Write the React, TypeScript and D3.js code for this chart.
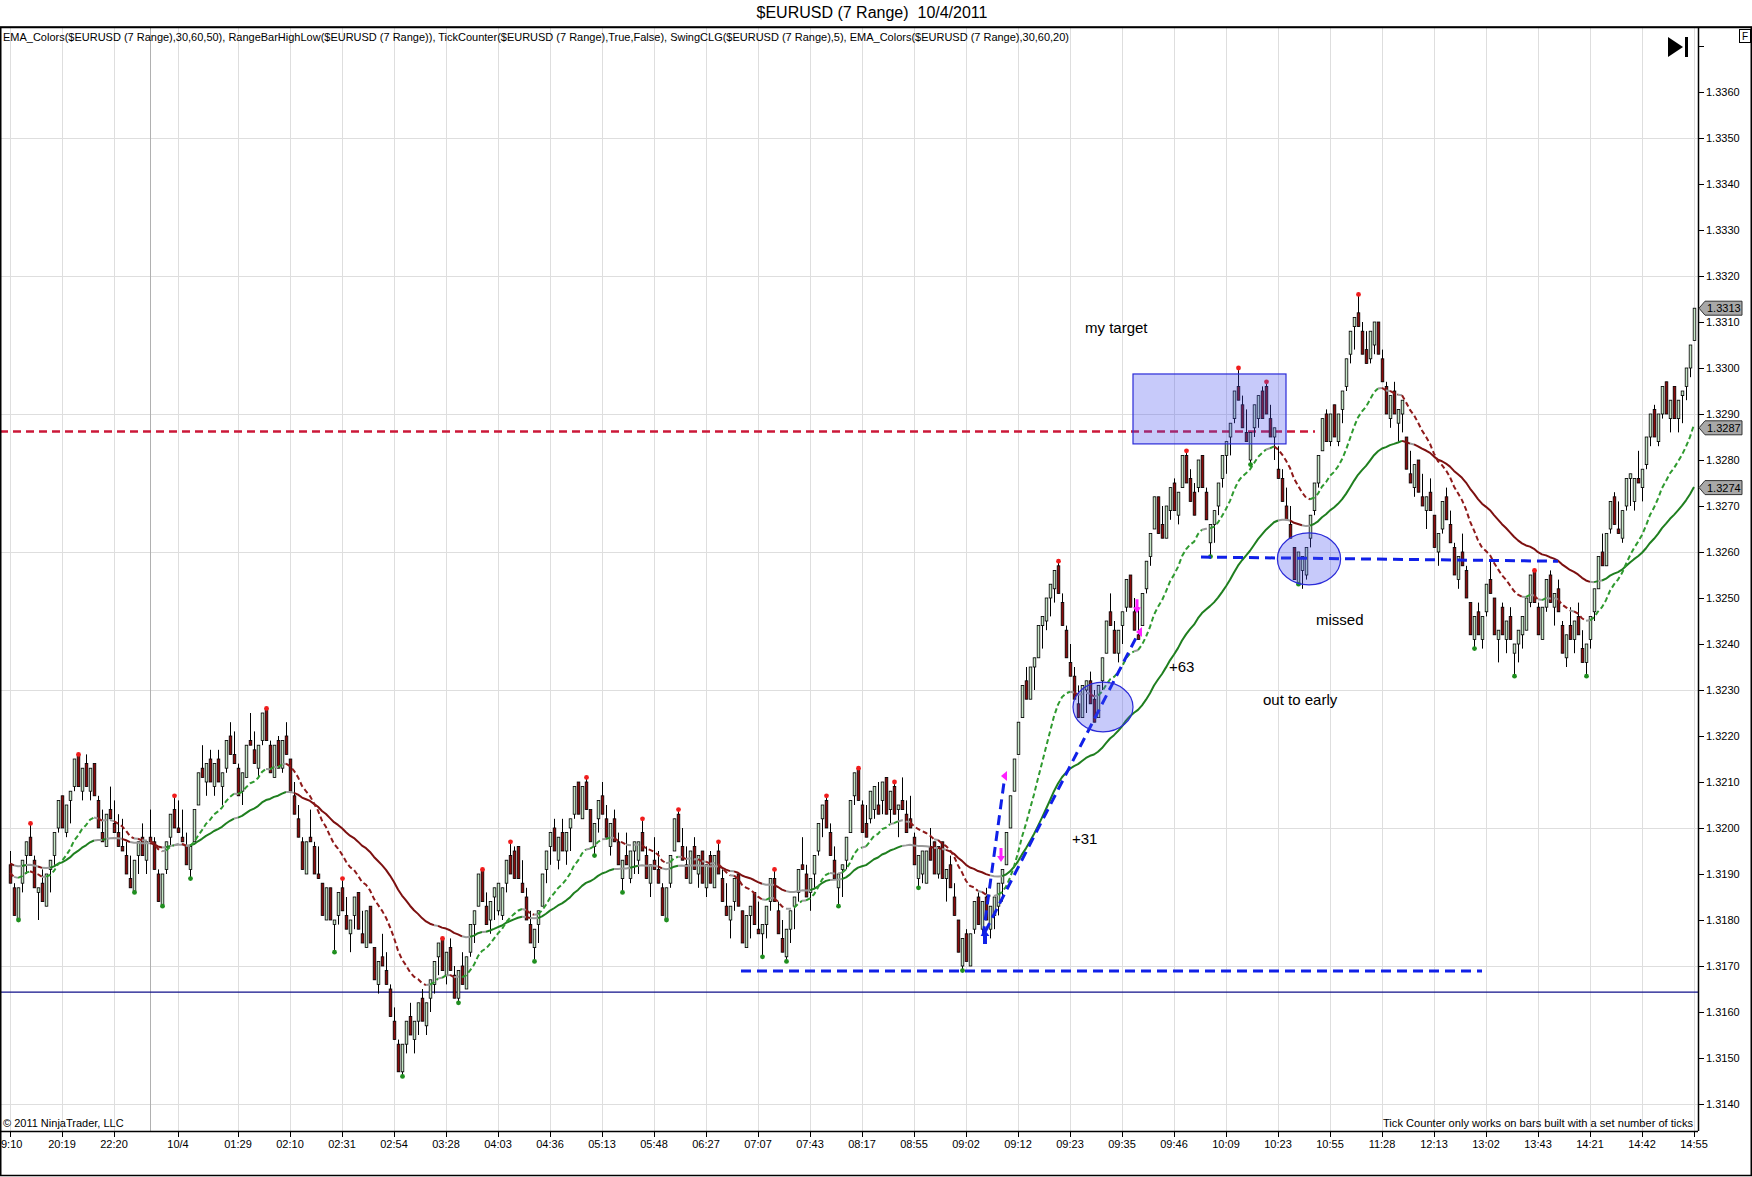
import { scaleLinear, line } from 'd3'

const BASE_PRICE = 1.314
const PIP = 0.0001
const RANGE_PIPS = 7

const openPips = [
  52, 47, 40, 48, 54, 58, 53, 46, 48, 43, 51, 54, 60, 67, 59, 66, 69, 76, 68, 74,
  68, 74, 66, 59, 56, 64, 61, 59, 56, 54, 49, 46, 54, 58, 53, 58, 57, 50, 43, 51,
  58, 64, 60, 58, 56, 51, 57, 65, 73, 70, 75, 69, 75, 69, 73, 80, 76, 73, 68, 71,
  79, 77, 73, 79, 86, 78, 71, 79, 73, 80, 75, 67, 62, 57, 50, 58, 56, 50, 48, 40,
  47, 39, 41, 47, 41, 37, 41, 46, 37, 34, 43, 34, 26, 32, 29, 25, 18, 13, 7, 13,
  19, 14, 18, 23, 17, 23, 26, 32, 36, 28, 34, 28, 23, 30, 25, 33, 39, 43, 51, 43,
  40, 45, 42, 41, 48, 54, 55, 56, 48, 45, 39, 34, 39, 43, 51, 56, 60, 53, 59, 55,
  60, 63, 70, 62, 70, 64, 56, 62, 67, 62, 56, 62, 57, 49, 54, 49, 55, 53, 59, 54,
  48, 53, 51, 47, 40, 48, 55, 63, 56, 52, 48, 56, 50, 55, 47, 54, 47, 55, 49, 43,
  40, 44, 50, 42, 34, 41, 46, 38, 37, 39, 44, 49, 42, 36, 32, 38, 43, 46, 52, 50,
  46, 50, 55, 62, 66, 59, 53, 47, 51, 53, 59, 67, 73, 65, 61, 62, 64, 65, 66, 71,
  64, 69, 64, 66, 63, 62, 58, 49, 50, 48, 56, 57, 50, 57, 49, 52, 45, 40, 30, 37,
  30, 38, 45, 38, 45, 38, 41, 43, 48, 52, 60, 68, 76, 84, 92, 88, 95, 97, 104, 105,
  110, 112, 117, 109, 103, 96, 93, 87, 84, 90, 92, 88, 84, 92, 98, 107, 103, 98, 104, 108,
  115, 107, 102, 104, 112, 119, 125, 132, 126, 123, 129, 135, 128, 134, 141, 136, 133, 134, 141, 133,
  122, 126, 130, 136, 141, 145, 149, 156, 152, 146, 140, 147, 149, 155, 156, 149, 145, 138, 136, 130,
  126, 121, 113, 116, 115, 123, 129, 135, 142, 150, 144, 152, 144, 151, 156, 163, 169, 172, 168, 164,
  162, 165, 170, 162, 156, 149, 155, 148, 150, 145, 137, 134, 140, 132, 129, 133, 128, 120, 125, 132,
  126, 121, 114, 120, 116, 109, 101, 107, 101, 107, 114, 110, 101, 108, 101, 106, 98, 100, 102, 103,
  109, 116, 108, 101, 108, 115, 108, 112, 104, 97, 104, 101, 106, 99, 96, 101, 107, 112, 120, 117,
  125, 132, 125, 123, 130, 136, 131, 136, 134, 139, 145, 151, 144, 150, 157, 149, 156, 149, 154, 156,
  160, 166,
]

const closePips = [
  48, 41, 47, 53, 57, 54, 47, 47, 44, 50, 53, 59, 66, 60, 65, 68, 75, 69, 73, 69,
  73, 67, 60, 57, 63, 62, 59, 56, 55, 50, 47, 53, 57, 54, 57, 57, 51, 44, 50, 57,
  63, 60, 59, 57, 52, 56, 64, 72, 71, 74, 70, 74, 70, 72, 79, 76, 74, 67, 72, 78,
  78, 74, 78, 85, 79, 72, 78, 73, 79, 76, 68, 63, 58, 51, 57, 57, 50, 49, 41, 47,
  40, 40, 46, 42, 38, 40, 45, 38, 35, 42, 35, 27, 31, 30, 26, 19, 14, 7, 13, 18,
  15, 18, 22, 18, 22, 27, 31, 35, 29, 33, 29, 23, 29, 26, 32, 39, 42, 50, 44, 39,
  44, 47, 48, 47, 53, 50, 49, 49, 46, 40, 35, 38, 42, 50, 55, 59, 55, 58, 55, 59,
  62, 69, 63, 69, 64, 57, 61, 66, 63, 58, 61, 57, 52, 53, 52, 55, 57, 57, 55, 49,
  52, 51, 48, 41, 47, 54, 62, 57, 53, 49, 55, 51, 54, 48, 52, 48, 54, 50, 44, 41,
  43, 49, 43, 35, 41, 43, 39, 37, 39, 43, 49, 44, 37, 33, 38, 42, 45, 51, 51, 45,
  49, 54, 61, 65, 60, 54, 49, 50, 52, 58, 66, 72, 66, 59, 58, 68, 69, 63, 70, 63,
  68, 63, 65, 64, 59, 60, 52, 54, 55, 55, 53, 50, 56, 49, 51, 47, 41, 33, 36, 31,
  37, 44, 39, 44, 40, 43, 45, 48, 51, 59, 67, 75, 83, 91, 88, 95, 97, 104, 106, 110,
  113, 116, 111, 104, 97, 93, 88, 84, 91, 92, 87, 83, 91, 97, 105, 104, 98, 103, 107, 114,
  108, 103, 101, 111, 118, 124, 132, 124, 123, 130, 134, 129, 133, 141, 135, 131, 128, 140, 134, 127,
  126, 129, 135, 141, 144, 148, 155, 153, 147, 144, 146, 152, 154, 149, 150, 145, 147, 136, 131, 127,
  123, 114, 120, 119, 121, 128, 135, 141, 149, 144, 150, 145, 150, 155, 162, 168, 171, 169, 163, 161,
  168, 170, 163, 157, 150, 154, 150, 151, 153, 138, 135, 139, 133, 130, 132, 129, 121, 124, 131, 127,
  122, 115, 119, 117, 110, 102, 106, 102, 106, 113, 111, 102, 103, 102, 105, 101, 100, 103, 106, 110,
  115, 109, 102, 108, 114, 109, 111, 107, 98, 102, 101, 105, 102, 96, 100, 106, 112, 119, 117, 124,
  131, 126, 124, 129, 136, 137, 136, 135, 138, 145, 150, 145, 150, 156, 150, 153, 149, 153, 155, 160,
  165, 173,
]

// first label is shown clipped at the left edge in the original, only "9:10" visible
const timeLabels = [
  '9:10', '20:19', '22:20', '10/4', '01:29', '02:10', '02:31', '02:54', '03:28', '04:03', '04:36',
  '05:13', '05:48', '06:27', '07:07', '07:43', '08:17', '08:55', '09:02', '09:12', '09:23', '09:35',
  '09:46', '10:09', '10:23', '10:55', '11:28', '12:13', '13:02', '13:43', '14:21', '14:42', '14:55',
]
const timeLabelBars = [
  0, 13, 26, 42, 57, 70, 83, 96, 109, 122, 135, 148, 161, 174, 187, 200, 213, 226, 239, 252, 265,
  278, 291, 304, 317, 330, 343, 356, 369, 382, 395, 408, 421,
]
const dayBreakBar = 35

const priceTicks = [
  1.314, 1.315, 1.316, 1.317, 1.318, 1.319, 1.32, 1.321, 1.322, 1.323, 1.324, 1.325, 1.326, 1.327,
  1.328, 1.329, 1.33, 1.331, 1.332, 1.333, 1.334, 1.335, 1.336,
]
const gridPrices = [1.314, 1.317, 1.32, 1.323, 1.326, 1.329, 1.332, 1.335]

const swingHighBars = [5, 17, 41, 64, 83, 108, 118, 125, 144, 158, 167, 177, 191, 204, 212, 221, 262, 294, 307, 314, 337, 381]
const swingLowBars = [2, 31, 38, 45, 81, 98, 112, 131, 146, 153, 164, 188, 194, 207, 227, 238, 300, 310, 322, 366, 376, 394]

// EMA_Colors: fast (dashed) and slow (solid); value before the first bar
const fastPeriod = 20
const slowPeriod = 50
const fastSeed = 50.5
const slowSeed = 52.5

const priceTags = [1.3313, 1.3287, 1.3274]
const supportPrice = 1.31643
const targetPrice = 1.32862
const targetLineEndBar = 326.25

// hand drawn objects, anchored in bar / pip coordinates
const blueDashes = [
  { b0: 182.75, p0: 28.9, b1: 368, p1: 28.9 },
  { b0: 297.75, p0: 118.9, b1: 387, p1: 118.0 },
  { b0: 243.25, p0: 36.5, b1: 248.75, p1: 71.5 },
  { b0: 243.75, p0: 37.4, b1: 282.25, p1: 102.6 },
]
const targetBox = { b0: 280.75, b1: 319, p0: 143.5, p1: 158.7 }
const ellipses = [
  { b: 273.25, p: 86.3, rb: 7.5, rp: 5.4 },
  { b: 324.75, p: 118.5, rb: 7.9, rp: 5.65 },
]
const notes = [
  { text: 'my target', b: 268.75, p: 167.6 },
  { text: '+63', b: 289.75, p: 93.9 },
  { text: 'missed', b: 326.5, p: 104.1 },
  { text: 'out to early', b: 313.25, p: 86.7 },
  { text: '+31', b: 265.5, p: 56.5 },
]
const exitArrows = [{ b: 247.75, p: 52.6 }, { b: 281.75, p: 106.7 }]
const exitHeads = [{ b: 248.75, p: 71.3 }, { b: 282.5, p: 102.6 }]
const entryArrow = { b: 243.75, p: 37.8 }

const FONT = "'Liberation Sans', Arial, sans-serif"
const UP_FILL = '#c6e6c6'
const DOWN_FILL = '#8b0a0a'

function ema(values: number[], period: number, seed: number) {
  const k = 2 / (period + 1)
  let prev = seed
  return values.map((v) => (prev = prev + k * (v - prev)))
}

function colourRuns(vals: number[], threshold: number, colors: { up: string; down: string; flat: string }) {
  const runs: { color: string; pts: [number, number][] }[] = []
  for (let i = 1; i < vals.length; i++) {
    const d = vals[i] - vals[i - 1]
    const c = d > threshold ? colors.up : d < -threshold ? colors.down : colors.flat
    const last = runs[runs.length - 1]
    if (last && last.color === c) last.pts.push([i, vals[i]])
    else runs.push({ color: c, pts: [[i - 1, vals[i - 1]], [i, vals[i]]] })
  }
  return runs
}

export default function App() {
  const left = 0
  const right = 1698
  const top = 27
  const bottom = 1131

  const x = scaleLinear().domain([0, 421]).range([10, 1694])
  const y = scaleLinear().domain([1.314, 1.336]).range([1104, 92])
  const py = (pips: number) => y(BASE_PRICE + pips * PIP)

  const bars = closePips.map((c, i) => {
    const o = openPips[i]
    const up = c >= o
    const hi = up ? c : Math.max(o, c + RANGE_PIPS)
    const lo = up ? Math.min(o, c - RANGE_PIPS) : c
    return { i, o, c, hi, lo, up }
  })

  const fast = ema(closePips, fastPeriod, fastSeed)
  const slow = ema(closePips, slowPeriod, slowSeed)
  const fastRuns = colourRuns(fast, 0.3, { up: '#2f9a2f', down: '#8e1a1a', flat: '#9a9a9a' })
  const slowRuns = colourRuns(slow, 0.2, { up: '#1f7f1f', down: '#7d1010', flat: '#9a9a9a' })

  const path = line<[number, number]>()
    .x((d) => x(d[0]))
    .y((d) => py(d[1]))

  const arrowDown = (cx: number, ty: number) =>
    `M${cx},${ty} L${cx - 4},${ty - 6} L${cx - 1.5},${ty - 6} L${cx - 1.5},${ty - 14} L${cx + 1.5},${ty - 14} L${cx + 1.5},${ty - 6} L${cx + 4},${ty - 6} Z`
  const arrowUp = (cx: number, ty: number) =>
    `M${cx},${ty} L${cx - 4.5},${ty + 6} L${cx - 2},${ty + 6} L${cx - 2},${ty + 14} L${cx + 2},${ty + 14} L${cx + 2},${ty + 6} L${cx + 4.5},${ty + 6} Z`

  return (
    <svg width={1752} height={1177} style={{ display: 'block', background: '#fff' }} fontFamily={FONT}>
      <style>{'body{margin:0}'}</style>
      <defs>
        <clipPath id="plot">
          <rect x={left} y={top} width={right - left} height={bottom - top} />
        </clipPath>
      </defs>

      <text x={872} y={18} fontSize={16} textAnchor="middle" fill="#000">
        {'$EURUSD (7 Range)\u00a0 10/4/2011'}
      </text>

      {/* grid */}
      {gridPrices.map((p) => (
        <line key={p} x1={left} x2={right} y1={Math.round(y(p)) + 0.5} y2={Math.round(y(p)) + 0.5} stroke="#dedede" />
      ))}
      {timeLabelBars.map((b) => (
        <line key={b} x1={Math.round(x(b)) + 0.5} x2={Math.round(x(b)) + 0.5} y1={top} y2={bottom} stroke="#dedede" />
      ))}
      <line x1={Math.round(x(dayBreakBar)) + 0.5} x2={Math.round(x(dayBreakBar)) + 0.5} y1={top} y2={bottom} stroke="#b0b0b0" />

      <g clipPath="url(#plot)">
        <line x1={left} x2={right} y1={y(supportPrice)} y2={y(supportPrice)} stroke="#10108a" strokeWidth={1.3} />
        <line x1={left} x2={x(targetLineEndBar)} y1={y(targetPrice)} y2={y(targetPrice)} stroke="#cc1838" strokeWidth={2.6} strokeDasharray="8,5" />

        {/* candles */}
        {bars.map((d) => {
          const cx = Math.round(x(d.i)) + 0.5
          const yTop = py(Math.max(d.o, d.c))
          const yBot = py(Math.min(d.o, d.c))
          return (
            <g key={d.i}>
              <line x1={cx} x2={cx} y1={py(d.hi)} y2={py(d.lo)} stroke="#000" strokeWidth={1} />
              <rect x={cx - 1.3} y={yTop} width={2.6} height={Math.max(1, yBot - yTop)} fill={d.up ? UP_FILL : DOWN_FILL} stroke="#000" strokeWidth={0.8} />
            </g>
          )
        })}

        {/* EMA colours */}
        {slowRuns.map((r, k) => (
          <path key={'s' + k} d={path(r.pts) ?? ''} fill="none" stroke={r.color} strokeWidth={2} strokeLinejoin="round" />
        ))}
        {fastRuns.map((r, k) => (
          <path key={'f' + k} d={path(r.pts) ?? ''} fill="none" stroke={r.color} strokeWidth={2} strokeDasharray="5,3" />
        ))}

        {/* swings */}
        {swingHighBars.map((b) => (
          <circle key={'h' + b} cx={Math.round(x(b)) + 0.5} cy={py(bars[b].hi)} r={2.4} fill="#f01c1c" />
        ))}
        {swingLowBars.map((b) => (
          <circle key={'l' + b} cx={Math.round(x(b)) + 0.5} cy={py(bars[b].lo)} r={2.4} fill="#1f8f1f" />
        ))}

        {/* drawings */}
        {blueDashes.map((l, k) => (
          <line key={'bd' + k} x1={x(l.b0)} y1={py(l.p0)} x2={x(l.b1)} y2={py(l.p1)} stroke="#1020e8" strokeWidth={3} strokeDasharray="10,6" />
        ))}
        <path d={arrowUp(x(entryArrow.b), py(entryArrow.p))} fill="#1020e8" />
        {exitArrows.map((a, k) => (
          <path key={'ea' + k} d={arrowDown(x(a.b), py(a.p))} fill="#ff20ff" />
        ))}
        {exitHeads.map((a, k) => {
          const hx = x(a.b)
          const hy = py(a.p)
          return <path key={'eh' + k} d={`M${hx - 4},${hy} L${hx + 2},${hy - 5} L${hx + 2},${hy + 5} Z`} fill="#ff20ff" />
        })}
        <rect
          x={x(targetBox.b0)}
          y={py(targetBox.p1)}
          width={x(targetBox.b1) - x(targetBox.b0)}
          height={py(targetBox.p0) - py(targetBox.p1)}
          fill="rgba(70,80,240,0.3)"
          stroke="#2a2ad8"
          strokeWidth={1.2}
        />
        {ellipses.map((e, k) => (
          <ellipse
            key={'el' + k}
            cx={x(e.b)}
            cy={py(e.p)}
            rx={x(e.b + e.rb) - x(e.b)}
            ry={py(e.p - e.rp) - py(e.p)}
            fill="rgba(70,80,240,0.3)"
            stroke="#2a2ad8"
            strokeWidth={1.2}
          />
        ))}
        {notes.map((n) => (
          <text key={n.text} x={x(n.b)} y={py(n.p)} fontSize={15} fill="#000">
            {n.text}
          </text>
        ))}
      </g>

      {/* header and footer texts */}
      <text x={3} y={41} fontSize={11} textLength={1066} lengthAdjust="spacingAndGlyphs" fill="#000">
        EMA_Colors($EURUSD (7 Range),30,60,50), RangeBarHighLow($EURUSD (7 Range)), TickCounter($EURUSD (7 Range),True,False), SwingCLG($EURUSD (7 Range),5), EMA_Colors($EURUSD (7 Range),30,60,20)
      </text>
      <text x={3} y={1127} fontSize={11} fill="#000">
        © 2011 NinjaTrader, LLC
      </text>
      <text x={1383} y={1127} fontSize={11} textLength={310} lengthAdjust="spacingAndGlyphs" fill="#000">
        Tick Counter only works on bars built with a set number of ticks
      </text>

      {/* play-to-end icon and F box */}
      <path d="M1668,37 L1668,57 L1683,47 Z" fill="#000" />
      <rect x={1685} y={37} width={3} height={20} fill="#000" />
      <rect x={1739.5} y={29.5} width={11} height={13} fill="#fff" stroke="#000" />
      <text x={1742} y={40} fontSize={10} fill="#000">
        F
      </text>

      {/* axes */}
      <line x1={0} x2={1752} y1={top + 0.5} y2={top + 0.5} stroke="#000" strokeWidth={1.5} />
      <line x1={0} x2={right} y1={bottom + 0.5} y2={bottom + 0.5} stroke="#000" strokeWidth={1.5} />
      <line x1={right + 0.5} x2={right + 0.5} y1={top} y2={bottom} stroke="#000" strokeWidth={1.5} />
      <rect x={0.75} y={top} width={1750.5} height={1175.5 - top} fill="none" stroke="#000" strokeWidth={1.5} />

      {priceTicks.concat([1.337]).map((p) => (
        <line key={'t' + p} x1={right} x2={right + 6} y1={Math.round(y(p)) + 0.5} y2={Math.round(y(p)) + 0.5} stroke="#000" />
      ))}
      {priceTicks.map((p) => (
        <text key={'pl' + p} x={right + 8} y={y(p) + 4} fontSize={11} fill="#000">
          {p.toFixed(4)}
        </text>
      ))}
      {priceTags.map((p) => {
        const ty = y(p)
        return (
          <g key={'tag' + p}>
            <path d={`M${right + 1},${ty} L${right + 7},${ty - 7} L${right + 44},${ty - 7} L${right + 44},${ty + 7} L${right + 7},${ty + 7} Z`} fill="#a8a8a8" stroke="#333" strokeWidth={1} />
            <text x={right + 9} y={ty + 4} fontSize={11} fill="#000">
              {p.toFixed(4)}
            </text>
          </g>
        )
      })}

      {timeLabelBars.map((b, k) => (
        <g key={'x' + b}>
          <line x1={Math.round(x(b)) + 0.5} x2={Math.round(x(b)) + 0.5} y1={bottom} y2={bottom + 6} stroke="#000" />
          <text x={k === 0 ? 1 : x(b)} y={1148} fontSize={11} textAnchor={k === 0 ? 'start' : 'middle'} fill="#000">
            {timeLabels[k]}
          </text>
        </g>
      ))}
    </svg>
  )
}
